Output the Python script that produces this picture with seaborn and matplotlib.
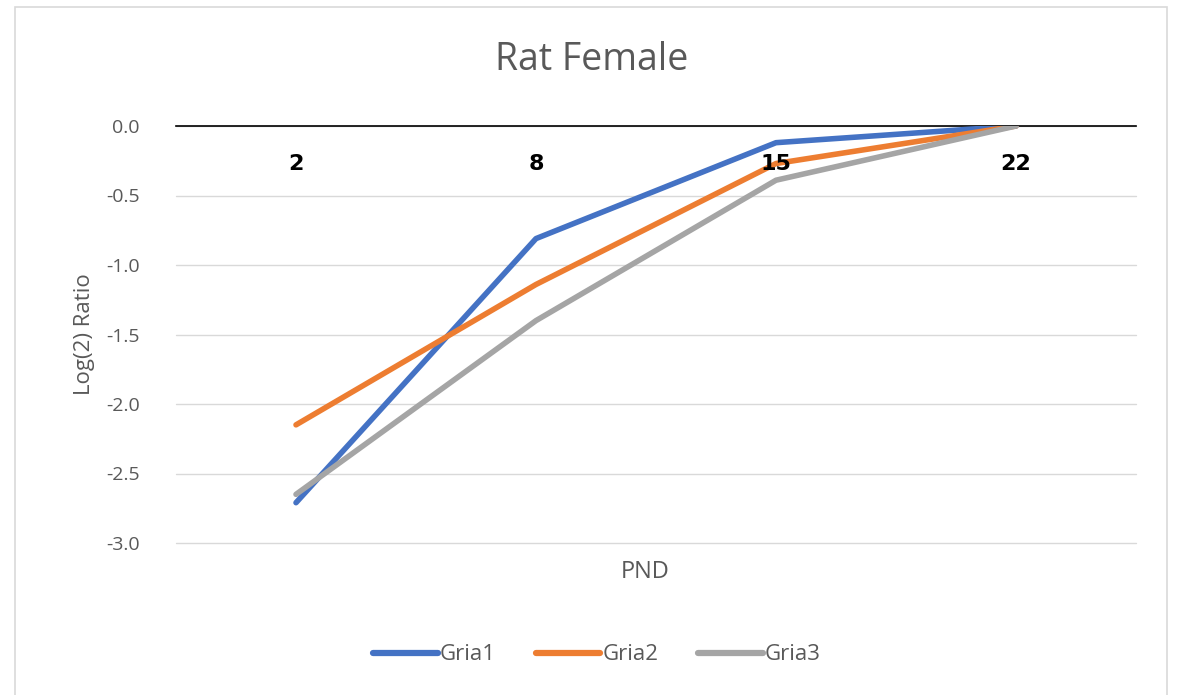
import matplotlib
matplotlib.use("Agg")
import matplotlib.pyplot as plt
import seaborn as sns
import pandas as pd
from matplotlib.patches import Rectangle

# Postnatal day categories and log2 expression ratios per AMPA receptor subunit
pnd = ["2", "8", "15", "22"]
gria1 = [-2.71, -0.81, -0.12, 0.0]
gria2 = [-2.15, -1.14, -0.27, 0.0]
gria3 = [-2.65, -1.40, -0.39, 0.0]
series_names = ["Gria1", "Gria2", "Gria3"]
y_ticks = [0.0, -0.5, -1.0, -1.5, -2.0, -2.5, -3.0]

df = pd.DataFrame({
    "PND": pnd * 3,
    "ratio": gria1 + gria2 + gria3,
    "gene": [n for n in series_names for _ in pnd],
})

sns.set_theme(style="white")
plt.rcParams["font.family"] = ["Open Sans", "DejaVu Sans"]
text_grey = "#595959"

fig = plt.figure(figsize=(11.78, 6.95), dpi=100)
ax = fig.add_axes([176 / 1178, 1 - 543 / 695, 960 / 1178, 417 / 695])

# chart border
fig.patches.append(Rectangle((15 / 1178, -0.05), 1152 / 1178, 1 - 7 / 695 + 0.05,
                             transform=fig.transFigure, fill=False,
                             edgecolor="#D9D9D9", linewidth=1.2))

palette = {"Gria1": "#4472C4", "Gria2": "#ED7D31", "Gria3": "#A5A5A5"}
sns.lineplot(data=df, x="PND", y="ratio", hue="gene", palette=palette,
             linewidth=4, ax=ax, sort=False, solid_capstyle="round", zorder=3)

ax.set_xlim(-0.5, 3.5)
ax.set_ylim(-3.0, 0.0)
ax.set_yticks(y_ticks)
ax.set_yticklabels([f"{v:.1f}" for v in y_ticks], color=text_grey, fontsize=14)
ax.yaxis.grid(True, color="#D9D9D9", linewidth=1)
for gl in ax.get_ygridlines():
    gl.set_clip_on(False)
ax.xaxis.grid(False)
ax.tick_params(axis="y", length=0, pad=26)

# category axis crosses at zero
for s in ["left", "right", "top"]:
    ax.spines[s].set_visible(False)
ax.spines["bottom"].set_position(("data", 0))
ax.spines["bottom"].set_color("black")
ax.spines["bottom"].set_linewidth(1.2)
ax.spines["bottom"].set_zorder(2)
ax.tick_params(axis="x", length=0, pad=20)
ax.set_xticks(range(len(pnd)))
ax.set_xticklabels(pnd, fontweight="bold", color="black", fontsize=16,
                   family=["DejaVu Sans"])
ax.xaxis.set_zorder(5)

ax.set_xlabel("")
ax.set_ylabel("Log(2) Ratio", color=text_grey, fontsize=16, labelpad=8)
ax.text(645 / 1178, 1 - 572 / 695, "PND", transform=fig.transFigure,
        ha="center", va="center", color=text_grey, fontsize=17)
fig.text(592 / 1178, 1 - 60 / 695, "Rat Female", ha="center", va="center",
         color=text_grey, fontsize=27)

leg = ax.legend(loc="center", bbox_to_anchor=(597 / 1178, 1 - 655 / 695),
                bbox_transform=fig.transFigure, ncol=3, frameon=False,
                fontsize=16, handlelength=2.9, handletextpad=0.1,
                columnspacing=1.8, title=None)
for t in leg.get_texts():
    t.set_color(text_grey)
for h in leg.get_lines():
    h.set_linewidth(4.5)

fig.savefig("out.png", dpi=100)
